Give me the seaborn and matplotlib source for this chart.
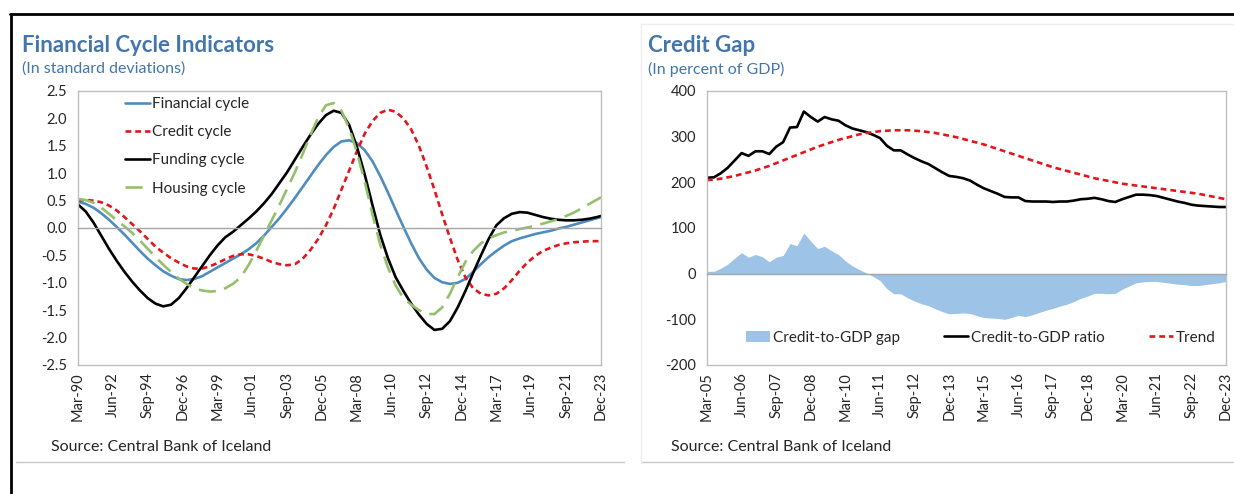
import numpy as np
import pandas as pd
import matplotlib.pyplot as plt
import seaborn as sns
from matplotlib.lines import Line2D

sns.set_style('white')
plt.rcParams['font.family'] = ['Lato', 'DejaVu Sans']
plt.rcParams['axes.unicode_minus'] = False

# --- left chart: financial cycle indicators (quarter index, 0 = Mar-90) ---
cycle_q = list(range(0, 135, 2)) + [135]
financial = [0.48, 0.44, 0.37, 0.27, 0.15, 0.02, -0.12, -0.27, -0.42, -0.56,
             -0.68, -0.79, -0.87, -0.93, -0.95, -0.93, -0.88, -0.80, -0.72, -0.64,
             -0.56, -0.48, -0.39, -0.28, -0.14, 0.02, 0.18, 0.36, 0.55, 0.75,
             0.95, 1.15, 1.33, 1.48, 1.58, 1.60, 1.55, 1.42, 1.22, 0.95,
             0.65, 0.33, 0.02, -0.28, -0.55, -0.76, -0.91, -0.99, -1.02, -1.00,
             -0.93, -0.80, -0.66, -0.53, -0.42, -0.32, -0.24, -0.19, -0.15, -0.11,
             -0.08, -0.05, -0.01, 0.02, 0.06, 0.10, 0.14, 0.18,
             0.20]
credit = [0.50, 0.51, 0.50, 0.47, 0.41, 0.32, 0.20, 0.07, -0.06, -0.20,
          -0.34, -0.45, -0.55, -0.63, -0.70, -0.74, -0.74, -0.70, -0.64, -0.57,
          -0.51, -0.48, -0.48, -0.51, -0.56, -0.62, -0.66, -0.68, -0.66, -0.56,
          -0.40, -0.20, 0.05, 0.35, 0.70, 1.05, 1.40, 1.72, 1.95, 2.10,
          2.16, 2.12, 2.00, 1.80, 1.50, 1.12, 0.70, 0.25, -0.18, -0.58,
          -0.90, -1.10, -1.20, -1.23, -1.20, -1.10, -0.95, -0.78, -0.63, -0.51,
          -0.42, -0.36, -0.31, -0.28, -0.26, -0.25, -0.24, -0.24,
          -0.24]
funding = [0.43, 0.30, 0.10, -0.14, -0.38, -0.60, -0.80, -0.98, -1.14, -1.28,
           -1.38, -1.43, -1.40, -1.28, -1.10, -0.90, -0.70, -0.50, -0.32, -0.17,
           -0.07, 0.05, 0.17, 0.30, 0.45, 0.62, 0.82, 1.02, 1.25, 1.48,
           1.70, 1.90, 2.06, 2.14, 2.10, 1.88, 1.48, 0.98, 0.42, -0.12,
           -0.55, -0.90, -1.15, -1.38, -1.58, -1.75, -1.86, -1.84, -1.70, -1.45,
           -1.15, -0.82, -0.50, -0.20, 0.05, 0.18, 0.26, 0.29, 0.28, 0.24,
           0.20, 0.17, 0.15, 0.14, 0.14, 0.15, 0.17, 0.20,
           0.22]
housing = [0.53, 0.51, 0.46, 0.37, 0.26, 0.14, 0.03, -0.09, -0.23, -0.38,
           -0.53, -0.67, -0.80, -0.92, -1.02, -1.10, -1.14, -1.16, -1.15, -1.10,
           -1.02, -0.90, -0.68, -0.42, -0.14, 0.14, 0.42, 0.72, 1.02, 1.35,
           1.70, 2.02, 2.24, 2.28, 2.14, 1.82, 1.38, 0.85, 0.25, -0.30,
           -0.72, -1.05, -1.28, -1.40, -1.50, -1.57, -1.57, -1.45, -1.20, -0.90,
           -0.62, -0.42, -0.28, -0.19, -0.13, -0.08, -0.05, -0.02, 0.01, 0.04,
           0.08, 0.12, 0.16, 0.22, 0.28, 0.36, 0.44, 0.52,
           0.56]
cycle_tick_q = list(range(0, 136, 9))
cycle_tick_labels = ['Mar-90', 'Jun-92', 'Sep-94', 'Dec-96', 'Mar-99', 'Jun-01', 'Sep-03', 'Dec-05',
                     'Mar-08', 'Jun-10', 'Sep-12', 'Dec-14', 'Mar-17', 'Jun-19', 'Sep-21', 'Dec-23']

# --- right chart: credit gap (quarterly, 0 = Mar-05) ---
gap_q = list(range(76))
ratio = [210, 211, 220, 232, 248, 264, 258, 268, 268, 262,
         278, 288, 320, 321, 355, 343, 333, 343, 338, 335,
         325, 318, 314, 310, 304, 297, 280, 270, 270, 261,
         253, 246, 240, 231, 222, 214, 212, 209, 204, 195,
         187, 181, 175, 168, 167, 167, 159, 158, 158, 158,
         157, 158, 158, 160, 163, 164, 166, 163, 159, 157,
         163, 168, 173, 173, 172, 170, 166, 162, 158, 155,
         151, 149, 148, 147, 146, 146]
trend = [205, 206, 208, 211, 214, 218, 222, 226, 231, 236,
         242, 248, 254, 260, 266, 272, 278, 283, 288, 293,
         297, 301, 305, 308, 310, 312, 313, 314, 314, 314,
         313, 312, 310, 308, 305, 302, 299, 295, 291, 287,
         283, 278, 273, 268, 263, 258, 253, 248, 243, 238,
         233, 229, 225, 221, 217, 213, 209, 206, 203, 200,
         197, 195, 193, 191, 189, 187, 185, 183, 181, 179,
         177, 175, 172, 169, 166, 163]
gap = [5, 5, 12, 21, 34, 46, 36, 42, 37, 26,
       36, 40, 66, 61, 89, 71, 55, 60, 50, 42,
       28, 17, 9, 2, -6, -15, -33, -44, -44, -53,
       -60, -66, -70, -77, -83, -88, -87, -86, -87, -92,
       -96, -97, -98, -100, -96, -91, -94, -90, -85, -80,
       -76, -71, -67, -61, -54, -49, -43, -43, -44, -43,
       -34, -27, -20, -18, -17, -17, -19, -21, -23, -24,
       -26, -26, -24, -22, -20, -17]
gap_tick_q = list(range(0, 76, 5))
gap_tick_labels = ['Mar-05', 'Jun-06', 'Sep-07', 'Dec-08', 'Mar-10', 'Jun-11', 'Sep-12', 'Dec-13',
                   'Mar-15', 'Jun-16', 'Sep-17', 'Dec-18', 'Mar-20', 'Jun-21', 'Sep-22', 'Dec-23']

W, H = 1234, 494
title_blue = '#4276ad'
frame_grey = '#bfbfbf'

fig = plt.figure(figsize=(W / 100, H / 100), dpi=100)
ax1 = fig.add_axes([78 / W, 129 / H, 523 / W, 274 / H])
ax2 = fig.add_axes([707 / W, 129 / H, 519 / W, 274 / H])

cyc = pd.DataFrame({'q': cycle_q, 'fin': financial, 'cred': credit, 'fund': funding, 'hous': housing})
sns.lineplot(data=cyc, x='q', y='fin', color='#4f8cc0', lw=1.9, label='Financial cycle', ax=ax1)
sns.lineplot(data=cyc, x='q', y='cred', color='#e3161d', lw=1.9, linestyle=(0, (2.2, 1.5)),
             label='Credit cycle', ax=ax1)
sns.lineplot(data=cyc, x='q', y='fund', color='black', lw=1.9, label='Funding cycle', ax=ax1)
sns.lineplot(data=cyc, x='q', y='hous', color='#93c06c', lw=1.9, linestyle=(0, (6.5, 3.2)),
             label='Housing cycle', ax=ax1)
ax1.set_ylim(-2.5, 2.5)
ax1.set_xlim(0, 135)
yt = np.arange(-2.5, 2.6, 0.5)
ax1.set_yticks(yt, labels=[f'{v:.1f}' for v in yt])

gp = pd.DataFrame({'q': gap_q, 'ratio': ratio, 'trend': trend, 'gap': gap})
ax2.fill_between(gp['q'], 0, gp['gap'], color='#9dc3e6', lw=0, label='Credit-to-GDP gap')
sns.lineplot(data=gp, x='q', y='ratio', color='black', lw=1.9, label='Credit-to-GDP ratio', ax=ax2)
sns.lineplot(data=gp, x='q', y='trend', color='#e3161d', lw=1.9, linestyle=(0, (2.2, 1.5)),
             label='Trend', ax=ax2)
ax2.set_ylim(-200, 400)
ax2.set_xlim(0, 75)
ax2.set_yticks(range(-200, 401, 100))

for ax, tq, tl in [(ax1, cycle_tick_q, cycle_tick_labels), (ax2, gap_tick_q, gap_tick_labels)]:
    ax.set_xlabel('')
    ax.set_ylabel('')
    for s in ['top', 'left', 'right']:
        ax.spines[s].set_color(frame_grey)
        ax.spines[s].set_linewidth(1)
    # category axis crosses at zero, labels sit at the bottom
    ax.spines['bottom'].set_position(('data', 0))
    ax.spines['bottom'].set_color('#a6a6a6')
    ax.spines['bottom'].set_linewidth(1)
    ax.set_xticks(tq)
    ax.tick_params(axis='x', direction='in', length=4, color='#a6a6a6', labelbottom=False)
    ax.tick_params(axis='y', direction='in', length=4, color=frame_grey, labelsize=10.5, pad=8)
    sec = ax.secondary_xaxis('bottom')
    sec.set_xticks(tq, labels=tl)
    sec.tick_params(length=0, labelsize=10.5, rotation=90, pad=5)
    sec.spines['bottom'].set_color(frame_grey)
    sec.spines['bottom'].set_linewidth(1)

ax1.legend(loc='upper left', bbox_to_anchor=(0.09, 0.978), frameon=False, fontsize=11,
           handlelength=1.6, handletextpad=0.15, labelspacing=0.93, borderpad=0, borderaxespad=0)
ax2.legend(loc='center left', bbox_to_anchor=(0.075, 0.1), frameon=False, fontsize=11, ncol=3,
           handlelength=1.6, handletextpad=0.15, columnspacing=2.9, borderpad=0, borderaxespad=0)

# titles and sources
fig.text(22 / W, 1 - 45 / H, 'Financial Cycle Indicators', fontsize=16, fontweight='bold',
         color=title_blue, va='center')
fig.text(22 / W, 1 - 69 / H, '(In standard deviations)', fontsize=11.5, color=title_blue, va='center')
fig.text(648 / W, 1 - 45 / H, 'Credit Gap', fontsize=16, fontweight='bold', color=title_blue, va='center')
fig.text(648 / W, 1 - 69 / H, '(In percent of GDP)', fontsize=11.5, color=title_blue, va='center')
fig.text(51 / W, 1 - 447 / H, 'Source: Central Bank of Iceland', fontsize=11.5, va='center')
fig.text(671 / W, 1 - 447 / H, 'Source: Central Bank of Iceland', fontsize=11.5, va='center')

# page frame lines
fig.add_artist(Line2D([10 / W, 1], [1 - 14 / H] * 2, color='black', lw=2, transform=fig.transFigure))
fig.add_artist(Line2D([11 / W] * 2, [0, 1 - 14 / H], color='black', lw=2, transform=fig.transFigure))
fig.add_artist(Line2D([16 / W, 624 / W], [1 - 462 / H] * 2, color='#c8c8c8', lw=1, transform=fig.transFigure))
fig.add_artist(Line2D([641 / W, 1], [1 - 462 / H] * 2, color='#c8c8c8', lw=1, transform=fig.transFigure))
fig.add_artist(Line2D([641 / W] * 2, [1 - 462 / H, 1 - 24 / H], color='#ededed', lw=1, transform=fig.transFigure))
fig.add_artist(Line2D([641 / W, 1], [1 - 24 / H] * 2, color='#ededed', lw=1, transform=fig.transFigure))

fig.savefig('out.png', dpi=100)
